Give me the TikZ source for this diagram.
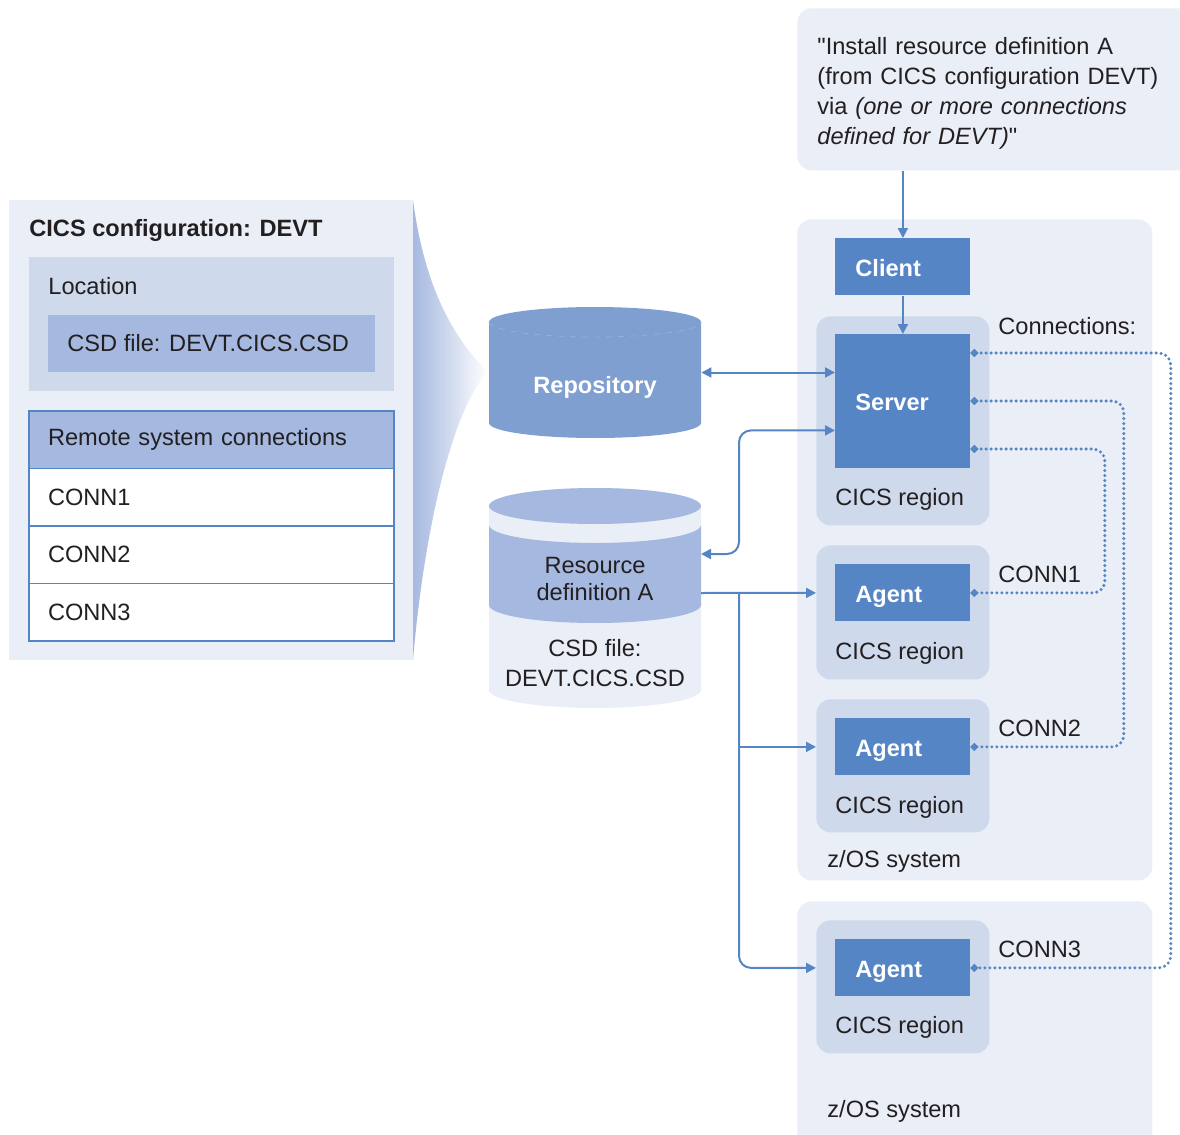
\documentclass[tikz,border=0pt]{standalone}
\usepackage{fontspec}
\setmainfont{Liberation Sans}[Ligatures=TeXOff]
\usetikzlibrary{arrows.meta,positioning,calc}

\definecolor{paleblue}{HTML}{E9EEF7}
\definecolor{softblue}{HTML}{CED9EC}
\definecolor{rowblue}{HTML}{A5B8DF}
\definecolor{repoblue}{HTML}{7F9FD1}
\definecolor{unitblue}{HTML}{5585C5}
\definecolor{inkgray}{HTML}{231F20}

\begin{document}
\begin{tikzpicture}[x=0.5pt, y=-0.5pt,
    font=\fontsize{11.8}{15}\selectfont,
    every node/.style={text=inkgray},
    area/.style={fill=paleblue, rounded corners=7pt, anchor=north west, inner sep=0pt},
    region/.style={fill=softblue, rounded corners=7pt, anchor=north west, inner sep=0pt, minimum width=86.5pt},
    unit/.style={fill=unitblue, text=white, font=\fontsize{11.8}{15}\selectfont\bfseries, anchor=north west,
                 inner xsep=10pt, text width=47.5pt, align=left, minimum height=28.5pt,
                 text height=10pt, text depth=0.5pt},
    note/.style={anchor=base west, inner sep=0pt},
    row/.style={draw=unitblue, line width=0.6pt, fill=white, minimum width=182.5pt, minimum height=28.75pt,
                inner xsep=9.5pt, text width=163.5pt, align=left, outer sep=0pt},
    flow/.style={draw=unitblue, line width=1pt, -{Triangle[length=5pt, width=5pt]}},
    flowboth/.style={flow, {Triangle[length=5pt, width=5pt]}-{Triangle[length=5pt, width=5pt]}},
    link/.style={draw=unitblue, line width=1.7pt, dash pattern=on 0pt off 2.5pt, line cap=round,
                 {Circle[length=3.5pt]}-{Circle[length=3.5pt]}, rounded corners=6pt}
  ]
  \useasboundingbox (0,0) rectangle (1180,1135);

  % CICS configuration panel
  \fill[paleblue] (9,200) rectangle (413,660);
  \shade[left color=rowblue, right color=white]
    (413,200) .. controls (425,290) and (455,340) .. (488,372)
    .. controls (455,405) and (425,520) .. (413,660) -- cycle;
  \node[note, font=\fontsize{11.8}{15}\selectfont\bfseries] (cfgtitle) at (29,236) {CICS configuration: DEVT};
  \node[fill=softblue, anchor=north west, inner sep=0pt, minimum width=182.5pt, minimum height=67pt] (location) at (29,257) {};
  \node[note] (loctitle) at (48,294) {Location};
  \node[fill=rowblue, anchor=north west, inner sep=0pt, minimum width=163.5pt, minimum height=28.5pt] (csdloc) at (48,315) {};
  \node[note] (csdtext) at (67,351) {CSD file: DEVT.CICS.CSD};
  \node[row, fill=rowblue, anchor=north west] (hdr) at (29,411) {Remote system connections};
  \node[row, below=0pt of hdr] (connrowA) {CONN1};
  \node[row, below=0pt of connrowA] (connrowB) {CONN2};
  \node[row, below=0pt of connrowB] (connrowC) {CONN3};

  % repository
  \fill[repoblue] (489,322) -- (489,423) arc[start angle=180, end angle=360, x radius=53pt, y radius=7.5pt]
    -- (701,322) arc[start angle=0, end angle=180, x radius=53pt, y radius=7.5pt] -- cycle;
  \draw[paleblue!20!repoblue, line width=0.4pt, dashed] (489,322) arc[start angle=180, end angle=360, x radius=53pt, y radius=7.5pt];
  \node[minimum width=106pt, minimum height=65.5pt, inner sep=0pt] (repo) at (595,372.5) {};
  \node[note, anchor=base, text=white, font=\fontsize{11.8}{15}\selectfont\bfseries] (repotext) at (595,393) {Repository};

  % CSD file
  \fill[paleblue] (489,506) -- (489,690) arc[start angle=180, end angle=360, x radius=53pt, y radius=9pt]
    -- (701,506) arc[start angle=0, end angle=180, x radius=53pt, y radius=9pt] -- cycle;
  \fill[rowblue] (489,525) -- (489,605) arc[start angle=180, end angle=360, x radius=53pt, y radius=9pt]
    -- (701,525) arc[start angle=360, end angle=180, x radius=53pt, y radius=9pt] -- cycle;
  \fill[rowblue] (595,506) ellipse[x radius=53pt, y radius=9pt];
  \node[align=center, inner sep=0pt, font=\fontsize{11.8}{13.5}\selectfont] (resdef) at (595,579) {Resource\\definition A};
  \node[align=center, inner sep=0pt] (csdfile) at (595,663) {CSD file:\\DEVT.CICS.CSD};

  % request and systems
  \node[area, minimum width=199pt, minimum height=81pt] (request) at (797,8) {};
  \node[anchor=west, inner sep=0pt, text width=179pt, align=left] (requesttext) at (817,93)
    {"Install resource definition A\\(from CICS configuration DEVT)\\via \textit{(one or more connections}\\\textit{defined for DEVT)}"};
  \node[area, minimum width=177.5pt, minimum height=330.5pt] (zosA) at (797,219) {};
  \node[area, minimum width=177.5pt, minimum height=130pt] (zosB) at (797,901) {};

  \node[region, minimum height=104.5pt] (regionA) at (816,316) {};
  \node[region, minimum height=67pt] (regionB) at (816,545) {};
  \node[region, minimum height=66.5pt] (regionC) at (816,699) {};
  \node[region, minimum height=66.5pt] (regionD) at (816,920) {};

  \node[unit] (client) at (835,238) {Client};
  \node[unit, minimum height=67pt] (server) at (835,334) {Server};
  \node[unit] (agentA) at (835,564) {Agent};
  \node[unit] (agentB) at (835,718) {Agent};
  \node[unit] (agentC) at (835,939) {Agent};

  \node[note] (regtextA) at (835,505) {CICS region};
  \node[note] (regtextB) at (835,659) {CICS region};
  \node[note] (regtextC) at (835,813) {CICS region};
  \node[note] (regtextD) at (835,1033) {CICS region};
  \node[note] (connhead) at (998,334) {Connections:};
  \node[note] (connA) at (998,582) {CONN1};
  \node[note] (connB) at (998,736) {CONN2};
  \node[note] (connC) at (998,957) {CONN3};
  \node[note] (zostextA) at (827,867) {z/OS system};
  \node[note] (zostextB) at (827,1117) {z/OS system};

  % connectors
  \coordinate (srvin) at ($(server.west)+(0,29)$);
  \coordinate (rdin) at (701,554);
  \coordinate (rdout) at (701,593);
  \coordinate (split) at ($(rdout)+(38,0)$);
  \draw[flow] (request.south -| client) -- (client);
  \draw[flow] (client) -- (server);
  \draw[flowboth] (repo.east) -- (repo.east -| server.west);
  \draw[flowboth, rounded corners=6pt] (srvin) -| ($(rdin)+(38,0)$) -- (rdin);
  \draw[flow] (rdout) -- (agentA -| regionB.west);
  \draw[flow] (split) |- (agentB -| regionC.west);
  \draw[flow, rounded corners=6pt] (split) |- (agentC -| regionD.west);

  \coordinate (portA) at ($(server.north east)+(0,19)$);
  \coordinate (portB) at ($(server.north east)+(0,67)$);
  \coordinate (portC) at ($(server.north east)+(0,115)$);
  \draw[link] (portA) -| ($(agentC.east)+(200,0)$) -- (agentC.east);
  \draw[link] (portB) -| ($(agentB.east)+(153,0)$) -- (agentB.east);
  \draw[link] (portC) -| ($(agentA.east)+(134,0)$) -- (agentA.east);
\end{tikzpicture}
\end{document}
